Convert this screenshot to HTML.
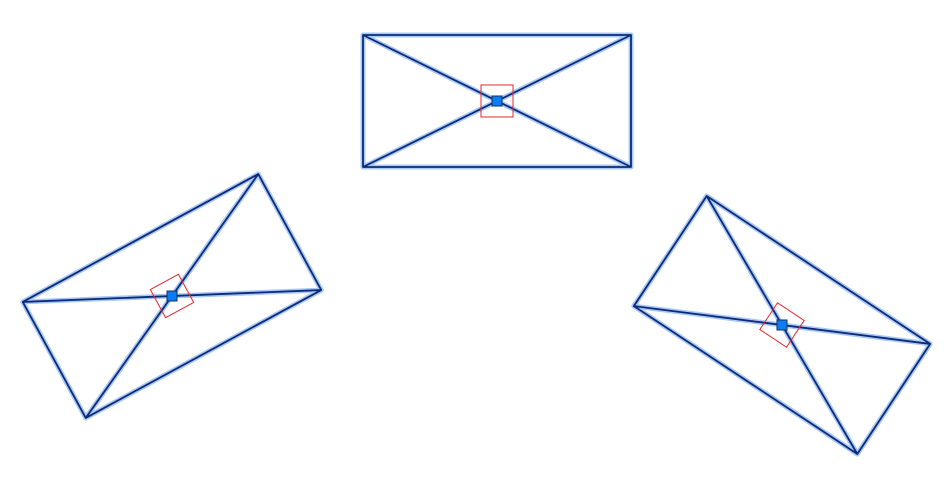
<!DOCTYPE html>
<html><head><meta charset="utf-8"><style>
html,body{margin:0;padding:0;background:#fff;width:948px;height:501px;overflow:hidden}
</style></head><body>
<svg id="c" width="948" height="501" viewBox="0 0 948 501" xmlns="http://www.w3.org/2000/svg"></svg>
<script>
const shapeNames = ['top-rectangle', 'left-rectangle', 'right-rectangle'];
const centerX = [497, 172, 782];
const centerY = [101, 296, 325];
const rectW = [268, 268, 268];
const rectH = [132, 132, 132];
const angles = [0, -28.5, 33.5];

const NS = 'http://www.w3.org/2000/svg';
const svg = document.getElementById('c');
function mk(tag, attrs, parent) {
  const e = document.createElementNS(NS, tag);
  for (const k in attrs) e.setAttribute(k, attrs[k]);
  parent.appendChild(e);
  return e;
}
for (let i = 0; i < shapeNames.length; i++) {
  const g = mk('g', {transform: `translate(${centerX[i]},${centerY[i]}) rotate(${angles[i]})`}, svg);
  
  
  const w = rectW[i] / 2, h = rectH[i] / 2;
  const d = `M${-w},${-h}H${w}V${h}H${-w}Z M${-w},${-h}L${w},${h} M${w},${-h}L${-w},${h}`;
  const glow = mk('path', {d, fill: 'none', stroke: '#a9c8f5', 'stroke-width': 5, 'stroke-linejoin': 'round'}, g);
  
  
  const outline = mk('path', {d, fill: 'none', stroke: '#0b2a78', 'stroke-width': 1.8, 'stroke-linejoin': 'round'}, g);
  
  
  const rot = mk('rect', {x: -16, y: -16, width: 32, height: 32, fill: 'none', stroke: '#e8262a', 'stroke-width': 1}, g);
  
  
  const hnd = mk('rect', {x: centerX[i] - 5, y: centerY[i] - 5, width: 10, height: 10, fill: '#0a7cf5', stroke: '#1a2f5a', 'stroke-width': 1}, svg);
  
  
}
</script>
</body></html>
